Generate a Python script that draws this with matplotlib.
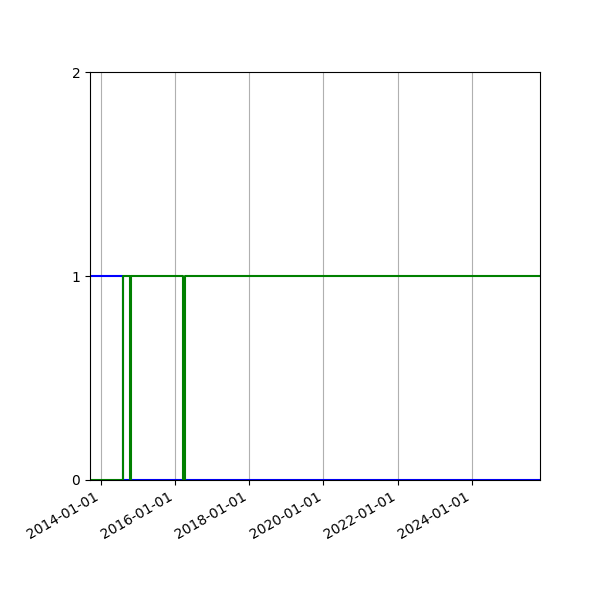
import matplotlib
matplotlib.use("Agg")
import matplotlib.pyplot as plt
import matplotlib.dates as mdates
import pandas as pd

# blue state: on until the switch, then off
blue_dates = ["2013-09-17", "2014-08-04", "2025-10-31"]
blue_values = [1, 0, 0]

# green state: off before the switch, then on with two short dropouts
green_dates = ["2013-09-17", "2014-08-04", "2014-10-20", "2014-10-22",
               "2016-03-24", "2016-04-05", "2025-10-31"]
green_values = [0, 1, 0, 1, 0, 1, 1]

y_ticks = [0, 1, 2]

blue_dates = pd.to_datetime(blue_dates)
green_dates = pd.to_datetime(green_dates)

fig, ax = plt.subplots(figsize=(6, 6), dpi=100)

ax.plot(blue_dates, blue_values, color="blue", drawstyle="steps-post")
ax.plot(green_dates, green_values, color="green", drawstyle="steps-post")

ax.set_xlim(blue_dates[0], blue_dates[-1])
ax.set_ylim(0, 2)
ax.set_yticks(y_ticks)

ax.xaxis.set_major_locator(mdates.YearLocator(2))
ax.xaxis.set_major_formatter(mdates.DateFormatter("%Y-%m-%d"))
ax.grid(True, axis="x")

fig.autofmt_xdate()
fig.subplots_adjust(left=0.15, right=0.9, top=0.88, bottom=0.2)

fig.savefig("out.png", dpi=100)
